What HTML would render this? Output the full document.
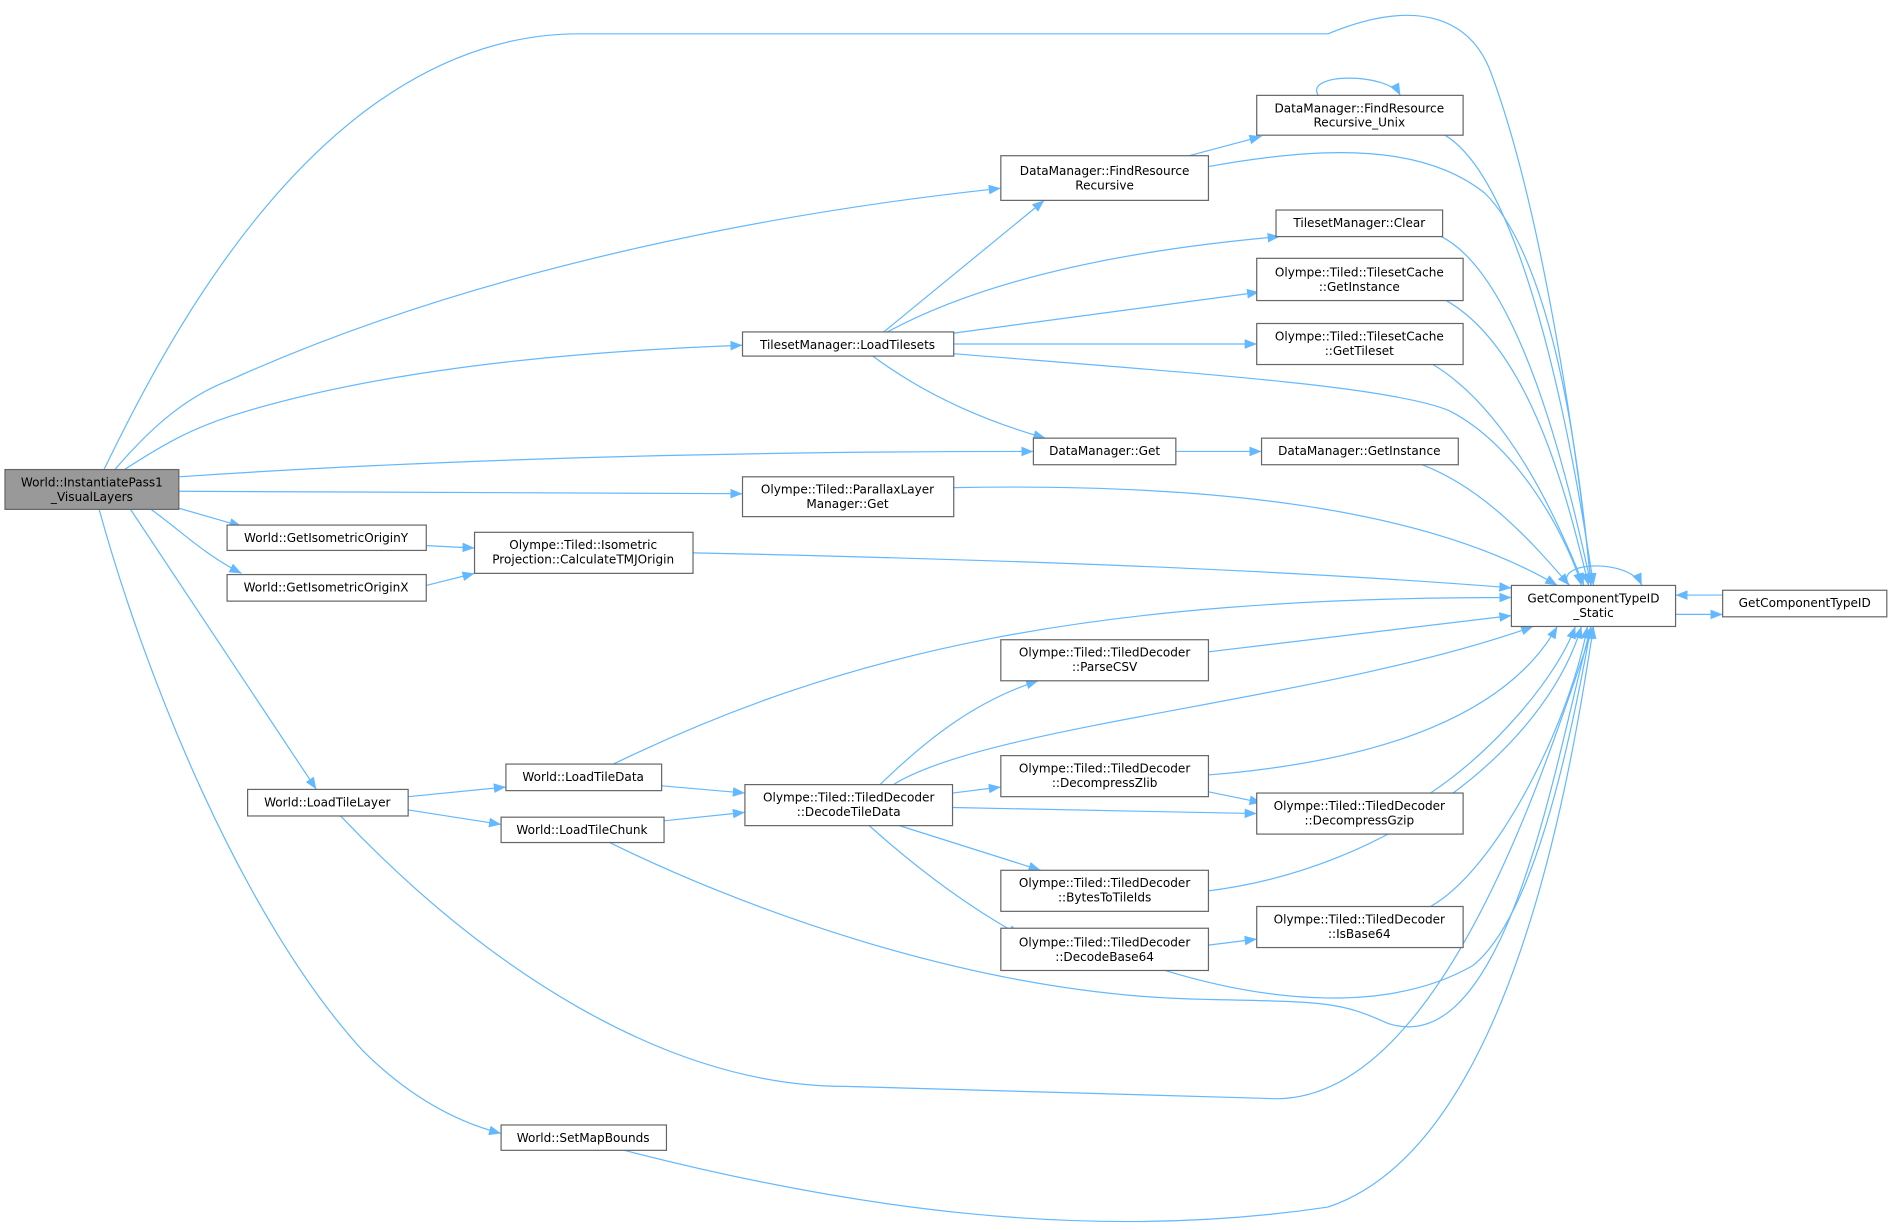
<!DOCTYPE html>
<html><head><meta charset="utf-8"><style>
html,body{margin:0;padding:0;background:#fff;}
svg{display:block;}
text{font-family:"DejaVu Sans","Liberation Sans",sans-serif;font-size:10px;fill:#000;text-anchor:middle;}
.n{fill:#fff;stroke:#666;stroke-width:1;}
.e{fill:none;stroke:#63b8ff;stroke-width:1;}
</style></head><body>
<svg width="1893" height="1230" viewBox="0 0 1568 1019" xmlns="http://www.w3.org/2000/svg">
<defs>
<marker id="a" markerWidth="10" markerHeight="8" refX="10" refY="4" orient="auto" markerUnits="userSpaceOnUse">
<path d="M0,0 L10,4 L0,8 Z" fill="#63b8ff"/>
</marker>
</defs>
<g class="e" marker-end="url(#a)">
<path d="M86,389 C130,300 260,28 480,28 L1100,28 C1180,-5 1220,20 1235,60 C1280,180 1310,400 1318,485"/>
<path d="M95,389 C120,360 150,330 190,315 C400,220 650,175 829,156"/>
<path d="M103,389 C140,365 160,355 190,345 C300,310 450,292 615,286"/>
<path d="M148,395 C400,378 650,374 856,374"/>
<path d="M148,407 L615,409"/>
<path d="M148,421 L200,436"/>
<path d="M125,422 C150,440 170,460 200,475"/>
<path d="M108,422 L262,654"/>
<path d="M82,422 C120,560 200,760 300,870 C340,910 380,930 415,939"/>
<path d="M985,129 L1045,113"/>
<path d="M1001,138 C1100,120 1180,120 1230,160 C1290,220 1310,400 1318,485"/>
<path d="M1092,79 C1080,60 1150,60 1160,79"/>
<path d="M1197,112 C1260,150 1300,350 1320,485"/>
<path d="M732,275 L865,166"/>
<path d="M735,275 C800,240 900,210 1060,196"/>
<path d="M790,276 L1043,242"/>
<path d="M790,285 L1041,285"/>
<path d="M790,293 C1000,310 1150,320 1200,340 C1260,370 1300,450 1310,485"/>
<path d="M723,295 C770,330 820,350 866,363"/>
<path d="M1194,196 C1260,230 1300,400 1318,485"/>
<path d="M1198,249 C1270,290 1300,420 1316,485"/>
<path d="M1187,302 C1250,340 1290,430 1312,485"/>
<path d="M974,374 L1045,374"/>
<path d="M1178,385 C1230,405 1270,450 1300,485"/>
<path d="M790,404 C1000,400 1180,420 1290,485"/>
<path d="M353,452 L393,454"/>
<path d="M353,485 L393,475"/>
<path d="M574,458 C900,465 1100,475 1252,487"/>
<path d="M1300,485 C1285,465 1350,462 1360,485"/>
<path d="M1388,509 L1427,509"/>
<path d="M1427,493 L1388,493"/>
<path d="M338,660 L419,652"/>
<path d="M338,671 L415,683"/>
<path d="M282,676 C400,800 550,900 700,900 L1050,910 C1200,920 1290,600 1320,519"/>
<path d="M508,633 C700,540 900,495 1252,495"/>
<path d="M548,651 L617,657"/>
<path d="M550,680 L617,673"/>
<path d="M505,698 C600,745 800,825 1000,828 C1100,830 1110,830 1150,848 C1250,880 1290,620 1318,519"/>
<path d="M729,650 C770,610 810,580 860,564"/>
<path d="M740,650 C820,600 1100,580 1270,519"/>
<path d="M789,657 L829,652"/>
<path d="M789,669 L1041,674"/>
<path d="M745,684 L862,721"/>
<path d="M720,684 C760,720 800,750 845,775"/>
<path d="M1001,540 L1252,510"/>
<path d="M1001,642 C1150,630 1250,590 1290,519"/>
<path d="M1001,656 L1045,665"/>
<path d="M1185,657 C1240,620 1290,560 1305,519"/>
<path d="M1001,738 C1150,720 1280,620 1310,519"/>
<path d="M1001,783 L1041,778"/>
<path d="M1185,751 C1240,720 1300,600 1315,519"/>
<path d="M965,804 C1050,830 1150,840 1220,800 C1270,760 1300,620 1318,519"/>
<path d="M517,953 C700,1000 900,1030 1100,1000 C1250,950 1300,650 1320,519"/>
</g>

<rect x="4" y="389" width="144" height="33" fill="#999" stroke="#666"/>
<text x="76" y="403">World::InstantiatePass1</text><text x="76" y="415">_VisualLayers</text>

<rect class="n" x="829" y="129" width="172" height="37"/>
<text x="915" y="145">DataManager::FindResource</text><text x="915" y="157">Recursive</text>

<rect class="n" x="1041" y="79" width="171" height="33"/>
<text x="1126" y="93">DataManager::FindResource</text><text x="1126" y="105">Recursive_Unix</text>

<rect class="n" x="1057" y="174" width="138" height="22"/>
<text x="1126" y="188">TilesetManager::Clear</text>

<rect class="n" x="1041" y="214" width="171" height="35"/>
<text x="1126" y="229">Olympe::Tiled::TilesetCache</text><text x="1126" y="241">::GetInstance</text>

<rect class="n" x="1041" y="268" width="171" height="34"/>
<text x="1126" y="282">Olympe::Tiled::TilesetCache</text><text x="1126" y="294">::GetTileset</text>

<rect class="n" x="615" y="275" width="175" height="20"/>
<text x="702" y="289">TilesetManager::LoadTilesets</text>

<rect class="n" x="856" y="363" width="118" height="22"/>
<text x="915" y="377">DataManager::Get</text>

<rect class="n" x="1045" y="363" width="163" height="22"/>
<text x="1126" y="377">DataManager::GetInstance</text>

<rect class="n" x="615" y="395" width="175" height="33"/>
<text x="702" y="409">Olympe::Tiled::ParallaxLayer</text><text x="702" y="421">Manager::Get</text>

<rect class="n" x="188" y="435" width="165" height="21"/>
<text x="270" y="449">World::GetIsometricOriginY</text>

<rect class="n" x="393" y="441" width="181" height="34"/>
<text x="483" y="455">Olympe::Tiled::Isometric</text><text x="483" y="467">Projection::CalculateTMJOrigin</text>

<rect class="n" x="188" y="476" width="165" height="22"/>
<text x="270" y="490">World::GetIsometricOriginX</text>

<rect class="n" x="1252" y="485" width="136" height="34"/>
<text x="1320" y="499">GetComponentTypeID</text><text x="1320" y="511">_Static</text>

<rect class="n" x="1427" y="489" width="136" height="22"/>
<text x="1495" y="503">GetComponentTypeID</text>

<rect class="n" x="829" y="530" width="172" height="34"/>
<text x="915" y="544">Olympe::Tiled::TiledDecoder</text><text x="915" y="556">::ParseCSV</text>

<rect class="n" x="829" y="626" width="172" height="34"/>
<text x="915" y="640">Olympe::Tiled::TiledDecoder</text><text x="915" y="652">::DecompressZlib</text>

<rect class="n" x="617" y="650" width="172" height="34"/>
<text x="703" y="664">Olympe::Tiled::TiledDecoder</text><text x="703" y="676">::DecodeTileData</text>

<rect class="n" x="1041" y="657" width="171" height="34"/>
<text x="1126" y="671">Olympe::Tiled::TiledDecoder</text><text x="1126" y="683">::DecompressGzip</text>

<rect class="n" x="419" y="633" width="129" height="22"/>
<text x="483" y="647">World::LoadTileData</text>

<rect class="n" x="205" y="654" width="133" height="22"/>
<text x="271" y="668">World::LoadTileLayer</text>

<rect class="n" x="415" y="677" width="135" height="21"/>
<text x="482" y="691">World::LoadTileChunk</text>

<rect class="n" x="829" y="721" width="172" height="34"/>
<text x="915" y="735">Olympe::Tiled::TiledDecoder</text><text x="915" y="747">::BytesToTileIds</text>

<rect class="n" x="1041" y="751" width="171" height="34"/>
<text x="1126" y="765">Olympe::Tiled::TiledDecoder</text><text x="1126" y="777">::IsBase64</text>

<rect class="n" x="829" y="769" width="172" height="35"/>
<text x="915" y="784">Olympe::Tiled::TiledDecoder</text><text x="915" y="796">::DecodeBase64</text>

<rect class="n" x="415" y="932" width="137" height="21"/>
<text x="483" y="946">World::SetMapBounds</text>
</svg>
</body></html>
